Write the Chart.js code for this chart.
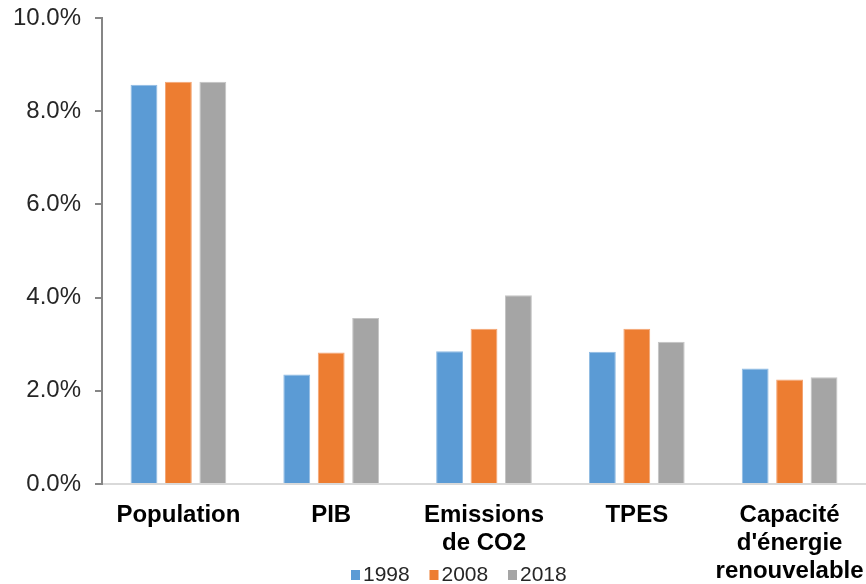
<!DOCTYPE html>
<html>
<head>
<meta charset="utf-8">
<script src="https://cdn.jsdelivr.net/npm/chart.js@4/dist/chart.umd.min.js"></script>
<style>
  body { margin: 0; background: #fff; }
  canvas { display: block; }
</style>
</head>
<body>
<canvas id="chartShare" width="866" height="584"></canvas>
<script>
// data (percent)
const categories = ['Population', 'PIB', ['Emissions', 'de CO2'], 'TPES', ['Capacité', "d'énergie", 'renouvelable']];
const years = ['1998', '2008', '2018'];
const values1998 = [8.57, 2.35, 2.85, 2.84, 2.48];
const values2008 = [8.63, 2.82, 3.33, 3.33, 2.24];
const values2018 = [8.63, 3.56, 4.05, 3.05, 2.29];
const yTicks = [0, 2, 4, 6, 8, 10];

const fillColors = ['#5b9bd5', '#ed7d31', '#a5a5a5'];
const edgeColors = ['#8fbbe3', '#f3a574', '#c4c4c4'];
const seriesValues = [values1998, values2008, values2018];

const FONT = "'Liberation Sans', Arial, sans-serif";

// legend drawn by hand so it sits between the axis labels like the original
const bottomLegend = {
  id: 'bottomLegend',
  afterDraw(chart) {
    const ctx = chart.ctx;
    ctx.save();
    ctx.font = '21px ' + FONT;
    ctx.textBaseline = 'middle';
    let x = 351;
    const y = 575;
    chart.data.datasets.forEach(ds => {
      ctx.fillStyle = ds.backgroundColor;
      ctx.fillRect(x, y - 5, 9, 10);
      ctx.fillStyle = '#262626';
      ctx.fillText(ds.label, x + 12, y);
      x += 78.5;
    });
    ctx.restore();
  }
};

const ctx = document.getElementById('chartShare').getContext('2d');
new Chart(ctx, {
  type: 'bar',
  data: {
    labels: categories,
    datasets: years.map((yr, i) => ({
      label: yr,
      data: seriesValues[i],
      backgroundColor: fillColors[i],
      borderColor: edgeColors[i],
      borderWidth: 1,
      barPercentage: 0.78,
      categoryPercentage: 0.676
    }))
  },
  options: {
    responsive: false,
    animation: false,
    layout: { padding: { top: 18, right: 0, left: 0, bottom: 0 } },
    plugins: { legend: { display: false }, tooltip: { enabled: false } },
    scales: {
      x: {
        grid: { display: false, drawTicks: false },
        border: { display: true, color: '#d9d9d9', width: 2 },
        ticks: {
          color: '#000',
          font: { family: FONT, size: 24, weight: 'bold', lineHeight: 1.18 },
          padding: 17,
          maxRotation: 0,
          autoSkip: false
        },
        afterFit: s => { s.height = 100; s.paddingRight = 0; s.paddingLeft = 0; }
      },
      y: {
        min: 0,
        max: 10,
        afterBuildTicks: s => { s.ticks = yTicks.map(v => ({ value: v })); },
        grid: { display: true, drawOnChartArea: false, drawTicks: true, tickLength: 7, color: '#868686', lineWidth: 2 },
        border: { display: true, color: '#868686', width: 2 },
        ticks: {
          color: '#262626',
          font: { family: FONT, size: 24 },
          padding: 14,
          callback: v => v.toFixed(1) + '%'
        },
        afterFit: s => { s.width = 102; s.paddingTop = 0; s.paddingBottom = 0; }
      }
    }
  },
  plugins: [bottomLegend]
});
</script>
</body>
</html>
